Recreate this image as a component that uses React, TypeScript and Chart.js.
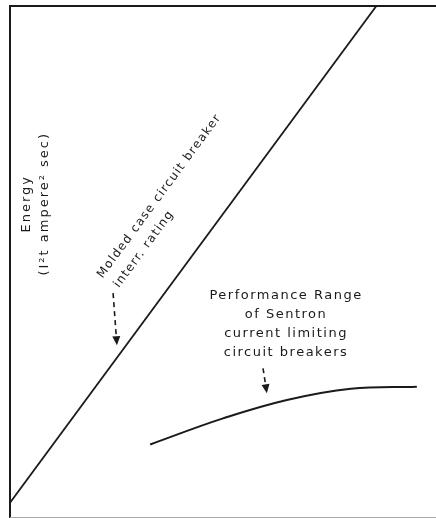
import React, { useEffect, useRef } from "react";
import { Chart, registerables } from "chart.js";

Chart.register(...registerables);

// Interrupting-rating line (straight)
const diagonalX = [0, 86];
const diagonalY = [2.8, 100];

// Performance range of current limiting breakers
const curveX = [32.9, 50.0, 65.0, 80.0, 95.5];
const curveY = [14.2, 19.3, 22.9, 25.1, 25.5];

const yLabelLines = ["Energy", "(I²t ampere² sec)"];
const diagLabelLines = ["Molded case circuit breaker", "interr. rating"];
const perfLabelLines = ["Performance Range", "of Sentron", "current limiting", "circuit breakers"];

const INK = "#1a1a1a";
const FONT = "DejaVu Sans";

function drawArrow(ctx: CanvasRenderingContext2D, x0: number, y0: number, x1: number, y1: number) {
  const ang = Math.atan2(y1 - y0, x1 - x0);
  const head = 9;
  const bx = x1 - head * Math.cos(ang);
  const by = y1 - head * Math.sin(ang);
  ctx.save();
  ctx.strokeStyle = INK;
  ctx.lineWidth = 1.6;
  ctx.setLineDash([5, 4]);
  ctx.beginPath();
  ctx.moveTo(x0, y0);
  ctx.lineTo(bx, by);
  ctx.stroke();
  ctx.setLineDash([]);
  ctx.fillStyle = INK;
  ctx.beginPath();
  ctx.moveTo(x1, y1);
  ctx.lineTo(x1 - head * Math.cos(ang) + 4 * Math.sin(ang), y1 - head * Math.sin(ang) - 4 * Math.cos(ang));
  ctx.lineTo(x1 - head * Math.cos(ang) - 4 * Math.sin(ang), y1 - head * Math.sin(ang) + 4 * Math.cos(ang));
  ctx.closePath();
  ctx.fill();
  ctx.restore();
}

const annotate = {
  id: "annotate",
  afterDatasetsDraw(chart: any) {
    const ctx: CanvasRenderingContext2D = chart.ctx;
    const { left, top, right, bottom } = chart.chartArea;
    const xs = chart.scales.x;
    const ys = chart.scales.y;
    const px = (v: number) => xs.getPixelForValue(v);
    const py = (v: number) => ys.getPixelForValue(v);

    ctx.save();
    // frame
    ctx.strokeStyle = INK;
    ctx.lineWidth = 2;
    ctx.beginPath();
    ctx.moveTo(left, chart.height);
    ctx.lineTo(left, top);
    ctx.lineTo(right, top);
    ctx.stroke();
    ctx.strokeStyle = "#aaaaaa";
    ctx.lineWidth = 1;
    ctx.beginPath();
    ctx.moveTo(left, bottom + 0.5);
    ctx.lineTo(right, bottom + 0.5);
    ctx.stroke();

    ctx.fillStyle = INK;
    ctx.textBaseline = "middle";

    // y-axis label (rotated)
    ctx.save();
    ctx.translate(px(3.9), py(61.3));
    ctx.rotate(-Math.PI / 2);
    ctx.textAlign = "center";
    ctx.font = `13px "${FONT}"`;
    (ctx as any).letterSpacing = "2px";
    yLabelLines.forEach((t, i) => ctx.fillText(t, 0, i * 18));
    ctx.restore();

    // diagonal label, parallel to the line
    const ax = px(diagonalX[0]), ay = py(diagonalY[0]);
    const bx = px(diagonalX[1]), by = py(diagonalY[1]);
    const ang = Math.atan2(by - ay, bx - ax);
    ctx.save();
    ctx.translate(px(21.1), py(47.0));
    ctx.rotate(ang);
    ctx.textAlign = "left";
    ctx.font = `12px "${FONT}"`;
    (ctx as any).letterSpacing = "1.3px";
    diagLabelLines.forEach((t, i) => ctx.fillText(t, i === 0 ? 0 : 2, i * 19));
    ctx.restore();

    // performance label
    ctx.save();
    ctx.textAlign = "center";
    ctx.font = `13px "${FONT}"`;
    (ctx as any).letterSpacing = "1.5px";
    const cx = px(64.8);
    const cy = py(43.4);
    perfLabelLines.forEach((t, i) => ctx.fillText(t, cx, cy + i * 19));
    ctx.restore();

    // arrows
    drawArrow(ctx, px(24.2), py(43.8), px(25.1), py(33.6));
    drawArrow(ctx, px(59.4), py(29.1), px(60.3), py(24.2));
    ctx.restore();
  },
};

export default function App() {
  const ref = useRef<HTMLCanvasElement | null>(null);
  useEffect(() => {
    document.body.style.margin = "0";
    document.body.style.background = "#ffffff";
    const canvas = ref.current;
    if (!canvas) return;
    const chart = new Chart(canvas, {
      type: "scatter",
      data: {
        datasets: [
          {
            data: diagonalX.map((x, i) => ({ x, y: diagonalY[i] })),
            showLine: true,
            borderColor: INK,
            borderWidth: 1.8,
            pointRadius: 0,
            fill: false,
          },
          {
            data: curveX.map((x, i) => ({ x, y: curveY[i] })),
            showLine: true,
            borderColor: INK,
            borderWidth: 2,
            pointRadius: 0,
            fill: false,
            tension: 0.4,
          },
        ],
      },
      options: {
        responsive: false,
        animation: false,
        devicePixelRatio: 1,
        layout: { padding: { left: 10, top: 6, right: 0, bottom: 1 } },
        plugins: { legend: { display: false }, tooltip: { enabled: false } },
        scales: {
          x: { type: "linear", min: 0, max: 100, display: false },
          y: { type: "linear", min: 0, max: 100, display: false },
        },
      },
      plugins: [annotate],
    } as any);
    return () => chart.destroy();
  }, []);
  return (
    <div style={{ width: 436, height: 518, background: "#fff" }}>
      <canvas ref={ref} width={436} height={518} />
    </div>
  );
}
